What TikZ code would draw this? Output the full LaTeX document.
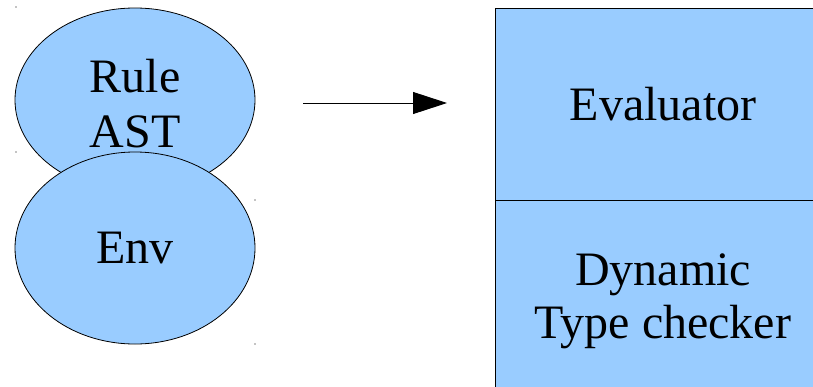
\documentclass[tikz,border=0pt]{standalone}
\usepackage{fontspec}
\setmainfont{Liberation Serif}
\newfontfamily\timesfont{Liberation Serif}
\usetikzlibrary{shapes.geometric,arrows.meta}
\definecolor{boxblue}{HTML}{99CCFF}
\begin{document}
\begin{tikzpicture}[x=1pt,y=-1pt,
  bigtext/.style={font=\timesfont\fontsize{48}{54}\selectfont,align=center},
  blob/.style={ellipse,draw=black,line width=0.8pt,fill=boxblue,inner sep=0pt,minimum width=240pt},
  part/.style={rectangle,draw=black,line width=0.8pt,fill=boxblue,inner sep=0pt,minimum width=336pt,minimum height=192pt,anchor=north west}]
\useasboundingbox (0,0) rectangle (813,386);
\clip (0,0) rectangle (813,386);
% ellipses
\node[blob,minimum height=184pt] (rule) at (135,100) {};
\node[bigtext,anchor=base] (ruletxt) at (135,92) {Rule};
\node[bigtext,anchor=base] (asttxt) at (135,147) {AST};
\node[blob,minimum height=192pt] (env) at (135,248) {};
\node[bigtext,anchor=base] (envtxt) at (135,263) {Env};
% tiny marks
\fill (16,7) circle (0.6);
\fill (16,152) circle (0.6);
\fill (255,200) circle (0.6);
\fill (255,344) circle (0.6);
% arrow
\coordinate (a1) at (303,103);
\coordinate (a2) at (447,103);
\draw[line width=0.9pt,-{Triangle[length=34pt,width=22pt]}] (a1) -- (a2);
% boxes
\node[part] (eval) at (495,8) {};
\node[part] (dyn) at (495,200) {};
\node[bigtext,anchor=base] (evaltxt) at (663,120) {Evaluator};
\node[bigtext,anchor=base] (dyntxt1) at (663,285) {Dynamic};
\node[bigtext,anchor=base] (dyntxt2) at (663,338) {Type checker};
\end{tikzpicture}
\end{document}
